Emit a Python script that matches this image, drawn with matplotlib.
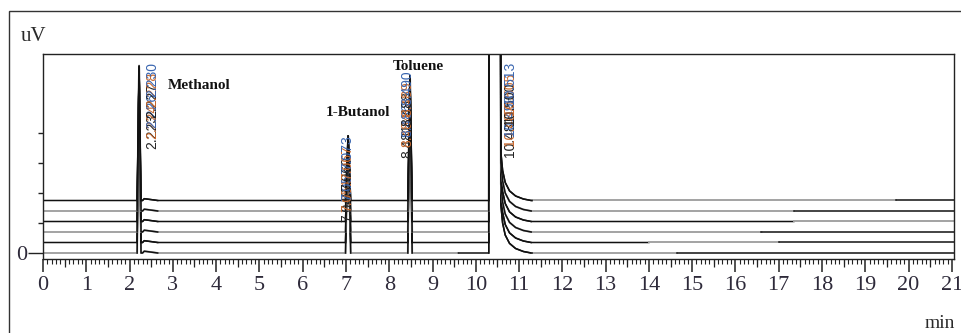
import numpy as np
import matplotlib
matplotlib.use("Agg")
import matplotlib.pyplot as plt

# six overlaid chromatograms, each shifted up by its own baseline
offsets = [0.0, 0.35, 0.70, 1.05, 1.40, 1.75]

# peaks (retention time, half width at base, height above own baseline per run)
meoh_rt, meoh_w = 2.22, 0.045
meoh_h = [6.25, 5.85, 5.50, 5.10, 4.80, 4.45]
buoh_rt, buoh_w = 7.05, 0.06
buoh_h = [3.90, 3.50, 3.20, 2.85, 2.50, 2.15]
tol_rt, tol_w = 8.48, 0.05
tol_h = [5.90, 5.50, 5.20, 4.85, 4.50, 4.15]

# small shoulder after methanol
sh_x = [2.30, 2.34, 2.55, 2.65]
sh_y = [0.0, 0.06, 0.02, 0.0]

# big solvent peak (off scale) and its tail
solv_x = [10.30, 10.33, 10.55]
solv_y = [0.0, 30.0, 30.0]
tail_x = [10.58, 10.62, 10.68, 10.78, 10.92, 11.10, 11.28]
tail_y = [1.60, 1.00, 0.60, 0.32, 0.15, 0.05, 0.0]

# retention time labels
meoh_lab = ["2.223", "2.224", "2.226", "2.227", "2.228", "2.230"]
buoh_lab = ["7.048", "7.051", "7.057", "7.060", "7.067", "7.073"]
tol_lab = ["8.481", "8.484", "8.486", "8.488", "8.489", "8.490"]
solv_lab = ["10.481", "10.487", "10.493", "10.500", "10.505", "10.513"]

# colour changes along each run (start time, colour)
segs = [
    [(0.0, "g"), (9.6, "k"), (11.3, "g"), (14.65, "k")],
    [(0.0, "k"), (14.0, "g"), (17.0, "k")],
    [(0.0, "g"), (16.6, "k")],
    [(0.0, "k"), (17.35, "g")],
    [(0.0, "g"), (17.35, "k")],
    [(0.0, "k"), (11.3, "g"), (19.7, "k")],
]

XMAX = 21.05
cols = {"k": "#111111", "g": "#a3a3a3"}
lws = {"k": 1.1, "g": 1.4}

fig = plt.figure(figsize=(9.61, 3.33), dpi=100)
ax = fig.add_axes([43 / 961, 74 / 333, 911 / 961, 205 / 333])
ax.set_xlim(0, XMAX)
ax.set_ylim(-0.2, 6.633)

for k, off in enumerate(offsets):
    pts = [(0.0, 0.0), (XMAX, 0.0)]
    for s, c in segs[k]:
        pts.append((s, 0.0))
    for rt, w, h in [(meoh_rt, meoh_w, meoh_h[k]), (buoh_rt, buoh_w, buoh_h[k]),
                     (tol_rt, tol_w, tol_h[k])]:
        pts += [(rt - w, 0.0), (rt, h), (rt + w, 0.0)]
    pts += list(zip(sh_x, sh_y))
    pts += list(zip(solv_x, solv_y))
    pts += list(zip(tail_x, tail_y))
    pts = sorted(set(pts), key=lambda p: p[0])
    x = np.array([p[0] for p in pts])
    y = np.array([p[1] for p in pts]) + off

    bounds = [s for s, c in segs[k]] + [XMAX]
    for i, (s, c) in enumerate(segs[k]):
        m = (x >= s) & (x <= bounds[i + 1])
        ax.plot(x[m], y[m], color=cols[c], lw=lws[c], solid_joinstyle="miter")
    # peaks are drawn dark on every run
    for a, b in [(2.1, 2.7), (6.9, 7.2), (8.35, 8.6), (10.2, 11.3)]:
        m = (x >= a) & (x <= b)
        ax.plot(x[m], y[m], color="#111111", lw=1.1)

lab_cols = ["#222222", "#c8692e", "#3a66b0", "#222222", "#c8692e", "#3a66b0"]
for labs, lx, ly in [(meoh_lab, 2.52, 3.45), (buoh_lab, 7.03, 1.03),
                     (tol_lab, 8.42, 3.17), (solv_lab, 10.80, 3.20)]:
    for k, t in enumerate(labs):
        ax.text(lx, ly + offsets[k], t, rotation=90, ha="center", va="bottom",
                fontsize=10, family="Liberation Sans", color=lab_cols[k])

for name, nx, ny in [("Methanol", 2.89, 5.57), ("1-Butanol", 6.54, 4.67),
                     ("Toluene", 8.08, 6.23)]:
    ax.text(nx, ny, name, fontsize=11, fontweight="bold",
            family="Liberation Serif", va="center", color="#111111")

# axes styling
for sp in ax.spines.values():
    sp.set_linewidth(1.0)
    sp.set_color("#222222")

tick_col = "#2e2a3a"
ax.set_xticks(range(22))
ax.set_xticklabels([str(i) for i in range(22)], family="Liberation Serif",
                   fontsize=16, color=tick_col)
ax.set_xticks(np.arange(0, XMAX, 0.1), minor=True)
ax.tick_params(axis="x", which="major", length=9.4, width=1.1, pad=3,
               color="#222222")
ax.tick_params(axis="x", which="minor", length=3.6, width=0.8, color="#222222")

sec = ax.secondary_xaxis("bottom")
sec.set_xticks(np.arange(0.5, 21, 1))
sec.tick_params(length=5.8, width=0.9, labelbottom=False, color="#222222")
sec.spines["bottom"].set_visible(False)

ax.set_yticks([0])
ax.set_yticklabels(["0"], family="Liberation Serif", fontsize=16, color=tick_col)
ax.set_yticks([1, 2, 3, 4], minor=True)
ax.tick_params(axis="y", which="major", length=10.8, width=1.0, pad=0.5,
               color="#222222")
ax.tick_params(axis="y", which="minor", length=3.6, width=1.0, color="#222222")

fig.text(21 / 961, 1 - 41 / 333, "uV", fontsize=15, family="Liberation Serif",
         va="baseline", color="#2a2a2a")
fig.text(955 / 961, 1 - 328 / 333, "min", fontsize=14, family="Liberation Serif",
         ha="right", va="baseline", color="#2a2a2a")

frame = plt.Rectangle((9 / 961, -0.1), 1.2, 1.1 - 11 / 333,
                      transform=fig.transFigure, fill=False, ec="#333333", lw=1.0)
fig.add_artist(frame)

fig.savefig("out.png", dpi=100)
